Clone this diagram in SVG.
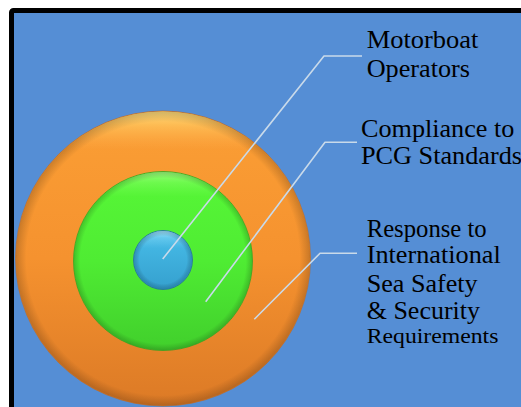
<svg xmlns="http://www.w3.org/2000/svg" width="521" height="407" viewBox="0 0 521 407">
<defs>
<linearGradient id="gOr" x1="0" y1="0" x2="0" y2="1">
<stop offset="0" stop-color="#FB9F35"/><stop offset="0.5" stop-color="#F5922F"/><stop offset="1" stop-color="#DC7A26"/>
</linearGradient>
<linearGradient id="gGr" x1="0" y1="0" x2="0" y2="1">
<stop offset="0" stop-color="#57F737"/><stop offset="0.5" stop-color="#4FEC33"/><stop offset="1" stop-color="#41CF2C"/>
</linearGradient>
<linearGradient id="gBl" x1="0" y1="0" x2="0" y2="1">
<stop offset="0" stop-color="#48BEEA"/><stop offset="1" stop-color="#35A0CE"/>
</linearGradient>
<linearGradient id="hiOr" x1="0" y1="0" x2="0" y2="1">
<stop offset="0" stop-color="#FFE080" stop-opacity="0.95"/><stop offset="0.05" stop-color="#FFC860" stop-opacity="0.65"/><stop offset="0.13" stop-color="#FFB050" stop-opacity="0"/>
</linearGradient>
<linearGradient id="hiGr" x1="0" y1="0" x2="0" y2="1">
<stop offset="0" stop-color="#B0FF90" stop-opacity="0.8"/><stop offset="0.06" stop-color="#90FF70" stop-opacity="0.4"/><stop offset="0.14" stop-color="#80FF60" stop-opacity="0"/>
</linearGradient>
<linearGradient id="hiBl" x1="0" y1="0" x2="0" y2="1">
<stop offset="0" stop-color="#B8ECFF" stop-opacity="0.9"/><stop offset="0.12" stop-color="#90DDF8" stop-opacity="0.4"/><stop offset="0.3" stop-color="#80D0F0" stop-opacity="0"/>
</linearGradient>
<radialGradient id="rim">
<stop offset="0.93" stop-color="#000" stop-opacity="0"/><stop offset="1" stop-color="#000" stop-opacity="0.18"/>
</radialGradient>
<radialGradient id="rimB">
<stop offset="0.82" stop-color="#000" stop-opacity="0"/><stop offset="1" stop-color="#003050" stop-opacity="0.25"/>
</radialGradient>
<style>
.lbl{font-family:"Liberation Serif","Times New Roman",serif;font-size:25px;fill:#000}
.conn{fill:none;stroke:#C9DAEA;stroke-width:1.6;stroke-linejoin:round}
</style>
</defs>
<rect x="0" y="0" width="521" height="407" fill="#FFFFFF"/>
<rect id="frame" x="11.5" y="10.5" width="520" height="410" rx="2" fill="#558ED5" stroke="#000" stroke-width="5"/>
<g id="outer">
<circle cx="163" cy="258.5" r="147.5" fill="url(#gOr)" stroke="#B9621C" stroke-opacity="0.6" stroke-width="1"/>
<circle cx="163" cy="258.5" r="147" fill="url(#hiOr)"/>
<circle cx="163" cy="258.5" r="147" fill="url(#rim)"/>
</g>
<g id="middle">
<circle cx="163" cy="261" r="89.5" fill="url(#gGr)" stroke="#2E9A20" stroke-opacity="0.7" stroke-width="1"/>
<circle cx="163" cy="261" r="89" fill="url(#hiGr)"/>
<circle cx="163" cy="261" r="89" fill="url(#rim)"/>
</g>
<g id="inner">
<circle cx="163" cy="260" r="29.5" fill="url(#gBl)" stroke="#246E96" stroke-opacity="0.8" stroke-width="1"/>
<circle cx="163" cy="260" r="29" fill="url(#hiBl)"/>
<circle cx="163" cy="260" r="29" fill="url(#rimB)"/>
</g>
<g id="connectors">
<polyline class="conn" points="162.7,259 324,56 362,56"/>
<polyline class="conn" points="205.7,301.7 325,142.3 357,142.3"/>
<polyline class="conn" points="254.3,319.3 320,253.3 357,253.3"/>
</g>
<g id="label-motorboat">
<text class="lbl" x="366.7" y="48.3" textLength="111.7" lengthAdjust="spacingAndGlyphs">Motorboat</text>
<text class="lbl" x="366.7" y="76.7" textLength="103.3" lengthAdjust="spacingAndGlyphs">Operators</text>
</g>
<g id="label-compliance">
<text class="lbl" x="361" y="136.5" textLength="153.3" lengthAdjust="spacingAndGlyphs">Compliance to</text>
<text class="lbl" x="361" y="164.3" textLength="161" lengthAdjust="spacingAndGlyphs">PCG Standards</text>
</g>
<g id="label-response">
<text class="lbl" x="366.7" y="236.7" textLength="120" lengthAdjust="spacingAndGlyphs">Response to</text>
<text class="lbl" x="366.7" y="263.3" textLength="134" lengthAdjust="spacingAndGlyphs">International</text>
<text class="lbl" x="366.7" y="291.7" textLength="111" lengthAdjust="spacingAndGlyphs">Sea Safety</text>
<text class="lbl" x="366.7" y="319.3" textLength="113.3" lengthAdjust="spacingAndGlyphs">&amp; Security</text>
<text class="lbl" x="366.7" y="343.3" style="font-size:21px" textLength="131.7" lengthAdjust="spacingAndGlyphs">Requirements</text>
</g>
</svg>
